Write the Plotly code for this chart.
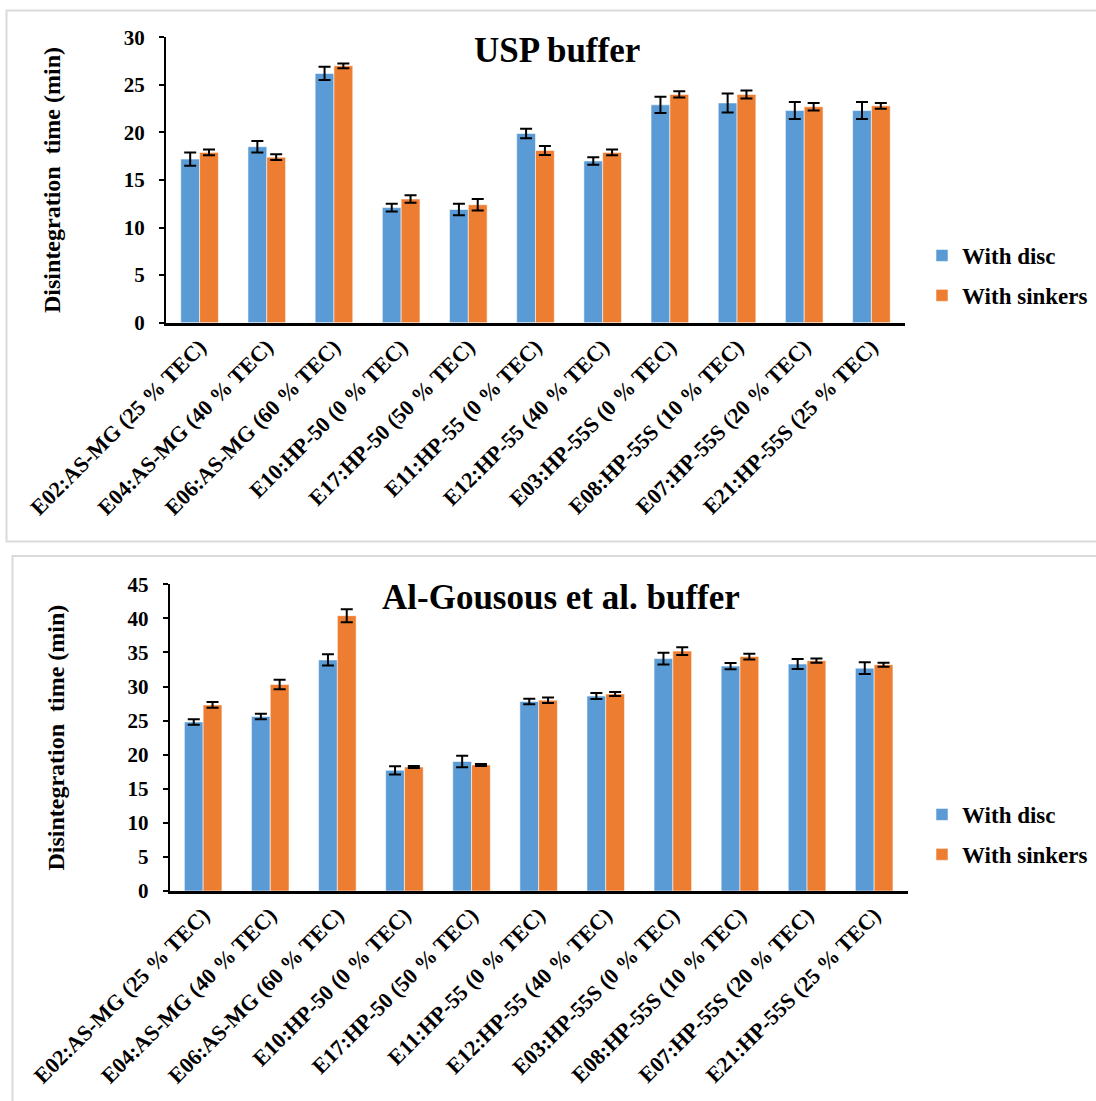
import plotly.graph_objects as go

categories = ["E02:AS-MG (25 % TEC)", "E04:AS-MG (40 % TEC)", "E06:AS-MG (60 % TEC)",
              "E10:HP-50 (0 % TEC)", "E17:HP-50 (50 % TEC)", "E11:HP-55 (0 % TEC)",
              "E12:HP-55 (40 % TEC)", "E03:HP-55S (0 % TEC)", "E08:HP-55S (10 % TEC)",
              "E07:HP-55S (20 % TEC)", "E21:HP-55S (25 % TEC)"]

usp_disc = [17.2, 18.5, 26.2, 12.1, 11.9, 19.9, 17.0, 22.9, 23.1, 22.3, 22.3]
usp_disc_err = [0.7, 0.6, 0.7, 0.4, 0.6, 0.5, 0.4, 0.85, 1.0, 0.9, 0.9]
usp_sink = [17.9, 17.4, 27.0, 13.0, 12.4, 18.1, 17.9, 24.0, 24.0, 22.7, 22.8]
usp_sink_err = [0.3, 0.3, 0.25, 0.4, 0.6, 0.47, 0.3, 0.33, 0.42, 0.4, 0.3]

alg_disc = [24.8, 25.6, 33.9, 17.7, 19.0, 27.8, 28.6, 34.1, 33.0, 33.3, 32.7]
alg_disc_err = [0.4, 0.4, 0.83, 0.6, 0.83, 0.4, 0.44, 0.85, 0.46, 0.73, 0.85]
alg_sink = [27.3, 30.3, 40.4, 18.2, 18.5, 28.0, 28.9, 35.2, 34.4, 33.8, 33.2]
alg_sink_err = [0.42, 0.7, 0.95, 0.15, 0.15, 0.4, 0.3, 0.56, 0.42, 0.3, 0.3]

series_names = ["With disc", "With sinkers"]
colors = ["#5B9BD5", "#ED7D31"]

W, H = 1096, 1101
FONT = "Liberation Serif"

def px(x):
    return x / W

def py(y):
    return 1 - y / H

fig = go.Figure()

def add_pair(disc, disc_err, sink, sink_err, xa, ya, legend):
    for name, vals, errs, col in [(series_names[0], disc, disc_err, colors[0]),
                                  (series_names[1], sink, sink_err, colors[1])]:
        fig.add_trace(go.Bar(
            x=categories, y=vals, name=name, xaxis=xa, yaxis=ya, legend=legend,
            legendgroup=legend + name,
            marker=dict(color=col, line=dict(color="rgba(255,255,255,0.55)", width=1)),
            error_y=dict(type="data", array=errs, visible=True, color="black",
                         thickness=2, width=6),
        ))

add_pair(usp_disc, usp_disc_err, usp_sink, usp_sink_err, "x", "y", "legend")
add_pair(alg_disc, alg_disc_err, alg_sink, alg_sink_err, "x2", "y2", "legend2")

xcommon = dict(type="category", showline=True, linecolor="black", linewidth=2.5,
               ticks="", tickangle=-45, showgrid=False, zeroline=False, automargin=False,
               tickfont=dict(family=FONT, size=22, color="black", weight="bold"))
ycommon = dict(showline=True, linecolor="black", linewidth=2, ticks="outside", ticklen=5,
               tickwidth=2, tickcolor="black", showgrid=False, automargin=False,
               tickfont=dict(family=FONT, size=21, color="black", weight="bold"),
               zeroline=False, ticklabelstandoff=10,
               title=dict(text="Disintegration  time (min)",
                          font=dict(family=FONT, size=24, color="black", weight="bold"),
                          standoff=56))

legfont = dict(family=FONT, size=23, color="black", weight="bold")

fig.update_layout(
    width=W, height=H,
    margin=dict(l=0, r=0, t=0, b=0, autoexpand=False),
    paper_bgcolor="white", plot_bgcolor="white",
    barmode="group", bargap=0.44, bargroupgap=0,
    showlegend=True,
    xaxis=dict(domain=[px(166), px(905)], anchor="y", **xcommon),
    yaxis=dict(domain=[py(322.7), py(37.3)], anchor="x", range=[0, 30], dtick=5, **ycommon),
    xaxis2=dict(domain=[px(169.6), px(907.7)], anchor="y2", **xcommon),
    yaxis2=dict(domain=[py(891), py(584.3)], anchor="x2", range=[0, 45], dtick=5, **ycommon),
    legend=dict(x=px(922), y=py(234), xanchor="left", yanchor="top", font=legfont,
                traceorder="grouped", tracegroupgap=7, itemwidth=30,
                bgcolor="rgba(0,0,0,0)"),
    legend2=dict(x=px(922), y=py(793), xanchor="left", yanchor="top", font=legfont,
                 traceorder="grouped", tracegroupgap=7, itemwidth=30,
                 bgcolor="rgba(0,0,0,0)"),
    annotations=[
        dict(text="<b>USP buffer</b>", x=px(557), y=py(50), xref="paper", yref="paper",
             showarrow=False, font=dict(family=FONT, size=35, color="black"),
             xanchor="center", yanchor="middle"),
        dict(text="<b>Al-Gousous et al. buffer</b>", x=px(561), y=py(597), xref="paper", yref="paper",
             showarrow=False, font=dict(family=FONT, size=35, color="black"),
             xanchor="center", yanchor="middle"),
    ],
    shapes=[
        dict(type="rect", xref="paper", yref="paper", x0=px(6.5), x1=px(1110),
             y0=py(541.5), y1=py(10.5), line=dict(color="#d9d9d9", width=2)),
        dict(type="rect", xref="paper", yref="paper", x0=px(12.5), x1=px(1110),
             y0=py(1120), y1=py(556), line=dict(color="#d9d9d9", width=2)),
    ],
)

fig.write_html("out.html")
